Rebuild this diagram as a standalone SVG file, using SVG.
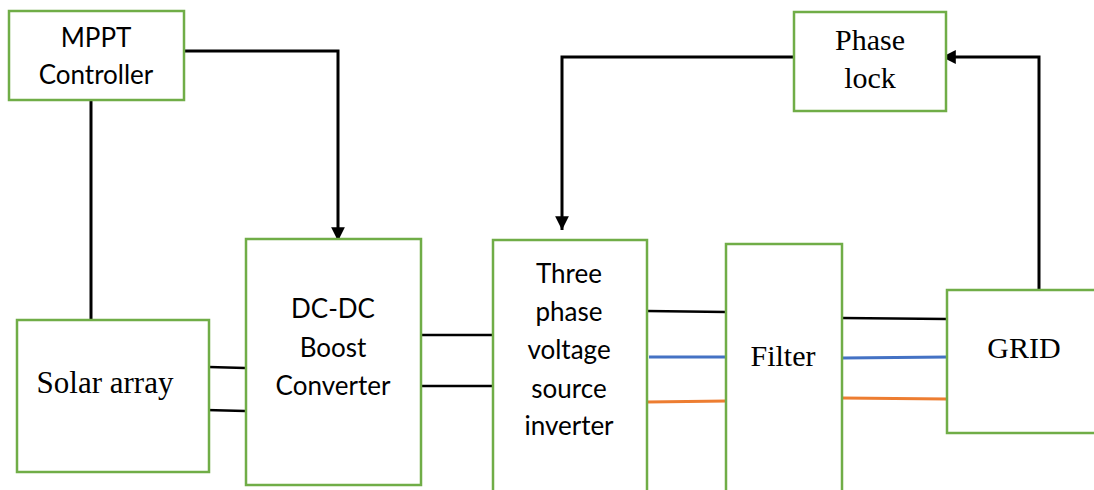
<svg xmlns="http://www.w3.org/2000/svg" width="1094" height="490" viewBox="0 0 1094 490">
  <style>
    .box { fill: #ffffff; stroke: #70ad47; stroke-width: 2.5; }
    .sans { font-family: Lato, "Open Sans", "Liberation Sans", sans-serif; font-size: 26px; fill: #000; text-anchor: middle; }
    .serif { font-family: "Liberation Serif", "DejaVu Serif", serif; font-size: 30px; fill: #000; text-anchor: middle; }
    .wire { fill: none; stroke: #000; stroke-width: 2.5; }
    .ctrl { fill: none; stroke: #000; stroke-width: 3; }
    .blue { fill: none; stroke: #4472c4; stroke-width: 3; }
    .orange { fill: none; stroke: #ed7d31; stroke-width: 3; }
  </style>
  <defs>
    <marker id="arrow" viewBox="0 0 10 10" refX="10" refY="5" markerWidth="4.6" markerHeight="4.6" markerUnits="strokeWidth" orient="auto">
      <path d="M0,0 L10,5 L0,10 Z" fill="#000"/>
    </marker>
  </defs>

  <rect width="1094" height="490" fill="#ffffff"/>

  <!-- connectors -->
  <g id="connectors">
    <!-- MPPT control signal to boost converter -->
    <polyline class="ctrl" points="184,51 338,51 338,241" marker-end="url(#arrow)"/>
    <!-- MPPT sensing from solar array -->
    <line class="ctrl" x1="91" y1="100" x2="91" y2="320"/>
    <!-- phase lock to inverter -->
    <polyline class="ctrl" points="794,57 562,57 562,230" marker-end="url(#arrow)"/>
    <!-- grid feedback to phase lock -->
    <polyline class="ctrl" points="1039,290 1039,57 942,57" marker-end="url(#arrow)"/>
    <!-- solar array DC leads -->
    <line class="wire" x1="209" y1="367" x2="245" y2="368"/>
    <line class="wire" x1="206" y1="410" x2="245" y2="411"/>
    <!-- DC link -->
    <line class="wire" x1="421" y1="335" x2="494" y2="335"/>
    <line class="wire" x1="421" y1="386" x2="494" y2="386"/>
    <!-- inverter to filter, three phases -->
    <line class="wire" x1="647" y1="311" x2="726" y2="312"/>
    <line class="blue" x1="649" y1="357" x2="726" y2="357"/>
    <line class="orange" x1="647" y1="402" x2="727" y2="401"/>
    <!-- filter to grid, three phases -->
    <line class="wire" x1="842" y1="318" x2="947" y2="319"/>
    <line class="blue" x1="842" y1="358" x2="949" y2="357"/>
    <line class="orange" x1="842" y1="398" x2="947" y2="399"/>
  </g>

  <g id="mppt">
    <rect class="box" x="9" y="11" width="175" height="89"/>
    <text class="sans" x="96" y="47">MPPT</text>
    <text class="sans" x="96" y="84">Controller</text>
  </g>

  <g id="phase-lock">
    <rect class="box" x="794" y="12" width="152" height="99"/>
    <text class="serif" x="870" y="50">Phase</text>
    <text class="serif" x="870" y="88">lock</text>
  </g>

  <g id="solar-array">
    <rect class="box" x="17" y="320" width="192" height="152"/>
    <text class="serif" x="105" y="393" style="font-size:31px">Solar array</text>
  </g>

  <g id="boost-converter">
    <rect class="box" x="246" y="239" width="175" height="246"/>
    <text class="sans" x="333" y="318">DC-DC</text>
    <text class="sans" x="333" y="357">Boost</text>
    <text class="sans" x="333" y="395">Converter</text>
  </g>

  <g id="inverter">
    <rect class="box" x="493" y="240" width="154" height="260"/>
    <text class="sans" x="569" y="283">Three</text>
    <text class="sans" x="569" y="321">phase</text>
    <text class="sans" x="569" y="359">voltage</text>
    <text class="sans" x="569" y="398">source</text>
    <text class="sans" x="569" y="435">inverter</text>
  </g>

  <g id="filter">
    <rect class="box" x="726" y="244" width="116" height="256"/>
    <text class="serif" x="783" y="366">Filter</text>
  </g>

  <g id="grid">
    <rect class="box" x="947" y="290" width="160" height="143"/>
    <text class="serif" x="1024" y="358">GRID</text>
  </g>
</svg>
